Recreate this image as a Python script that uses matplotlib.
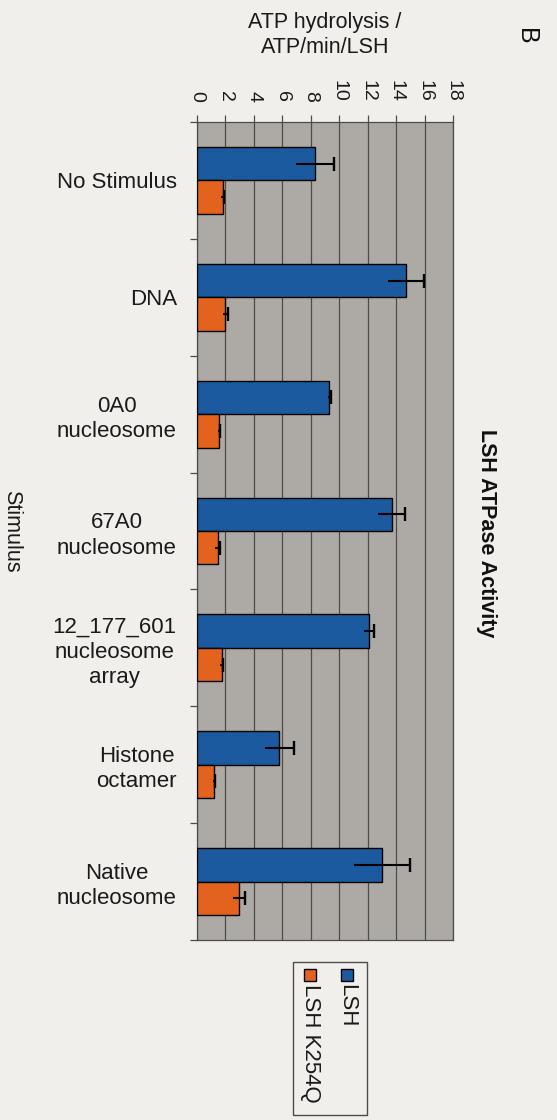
import numpy as np
import matplotlib
matplotlib.use("Agg")
import matplotlib.pyplot as plt
from matplotlib.patches import Rectangle
from matplotlib.ticker import FixedLocator

# ---- data -------------------------------------------------------------
categories = ["No Stimulus", "DNA", "0A0\nnucleosome", "67A0\nnucleosome",
              "12_177_601\nnucleosome\narray", "Histone\noctamer",
              "Native\nnucleosome"]
lsh = [8.3, 14.7, 9.3, 13.7, 12.1, 5.8, 13.0]
lsh_err = [1.35, 1.25, 0.12, 0.95, 0.35, 1.05, 1.95]
k254q = [1.8, 2.0, 1.55, 1.45, 1.75, 1.2, 2.95]
k254q_err = [0.1, 0.15, 0.1, 0.2, 0.1, 0.1, 0.4]
series_names = ["LSH", "LSH K254Q"]
value_ticks = list(range(0, 19, 2))

# ---- style --------------------------------------------------------------
W, H, DPI = 557, 1120, 100
PAGE = "#f1efeb"
PLOT_BG = "#adaaa6"
BLUE = "#1b5a9f"
ORANGE = "#e3621d"
GRID = "#4e4c4a"
TEXT = "#1a1a1a"
plt.rcParams["font.family"] = ["Liberation Sans", "DejaVu Sans"]

fig = plt.figure(figsize=(W / DPI, H / DPI), dpi=DPI, facecolor=PAGE)


def fx(x):
    return x / W


def fy(y):
    return 1 - y / H


# plot area in pixel bounds: x 197..453, y 122..940
ax = fig.add_axes([fx(197), fy(940), fx(453) - fx(197), fy(122) - fy(940)])
ax.set_facecolor(PLOT_BG)

y = np.arange(len(categories))
bh = 0.286
ax.barh(y - bh / 2, lsh, height=bh, color=BLUE, edgecolor="black",
        linewidth=1.0, zorder=3, label=series_names[0])
ax.barh(y + bh / 2, k254q, height=bh, color=ORANGE, edgecolor="black",
        linewidth=1.0, zorder=3, label=series_names[1])

# error bars: full line, cap only on the positive end
for vals, errs, yy in ((lsh, lsh_err, y - bh / 2), (k254q, k254q_err, y + bh / 2)):
    vals = np.asarray(vals)
    errs = np.asarray(errs)
    ax.errorbar(vals, yy, xerr=errs, fmt="none", ecolor="black",
                elinewidth=1.5, capsize=0, zorder=4)
    ax.plot(vals + errs, yy, linestyle="none", marker="|", markersize=9.5,
            mew=1.7, color="black", zorder=4)

ax.set_xlim(0, 18)
ax.set_ylim(len(categories) - 0.5, -0.5)

# value axis on top, labels rotated
ax.xaxis.tick_top()
ax.xaxis.set_major_locator(FixedLocator(value_ticks))
ax.set_xticklabels([str(v) for v in value_ticks], rotation=270,
                   fontsize=14, color=TEXT)
ax.tick_params(axis="x", which="major", direction="out", length=5,
               width=0.9, color=GRID, pad=9.5)
ax.grid(axis="x", color=GRID, linewidth=0.9, zorder=1)

# category axis
ax.set_yticks(y)
ax.set_yticklabels(categories, fontsize=16, color=TEXT,
                   multialignment="center", linespacing=1.25)
ax.tick_params(axis="y", which="major", length=0, pad=14.5)
ax.yaxis.set_minor_locator(FixedLocator(np.arange(-0.5, len(categories), 1.0)))
ax.tick_params(axis="y", which="minor", direction="out", length=5,
               width=0.9, color=GRID)

for side in ("left", "right", "top", "bottom"):
    ax.spines[side].set_color(GRID)
    ax.spines[side].set_linewidth(0.9)

ax.set_axisbelow(True)

# axis titles
ax.xaxis.set_label_position("top")
ax.set_xlabel("ATP hydrolysis /\nATP/min/LSH", fontsize=15.5, color=TEXT,
              linespacing=1.3, va="center")
ax.xaxis.set_label_coords(0.5, (1120 - 35 - 180) / 818)

ax.set_ylabel("Stimulus", rotation=270, fontsize=15.5, color=TEXT,
              va="center", ha="center")
ax.yaxis.set_label_coords((12 - 197) / 256, 0.5)

# chart title and panel letter
fig.text(fx(486), fy(533), "LSH ATPase Activity", rotation=270,
         fontsize=15.5, fontweight="bold", ha="center", va="center",
         color="#111111")
fig.text(fx(526), fy(36), "B", rotation=270, fontsize=18,
         ha="center", va="center", color="#111111")

# legend box, laid out vertically like the rest of the rotated text
fig.patches.append(Rectangle((fx(293), fy(1115)), fx(367) - fx(293),
                             fy(962) - fy(1115), transform=fig.transFigure,
                             facecolor="none", edgecolor=GRID, linewidth=1.0))
for name, color, xc in ((series_names[0], BLUE, 347), (series_names[1], ORANGE, 310)):
    s = 12
    fig.patches.append(Rectangle((fx(xc - s / 2), fy(975 + s / 2)), s / W, s / H,
                                 transform=fig.transFigure, facecolor=color,
                                 edgecolor="black", linewidth=1.0))
    fig.text(fx(xc), fy(984), name, rotation=270, rotation_mode="anchor",
             ha="left", va="center", fontsize=16, color=TEXT)

fig.savefig("out.png", dpi=DPI, facecolor=PAGE)
